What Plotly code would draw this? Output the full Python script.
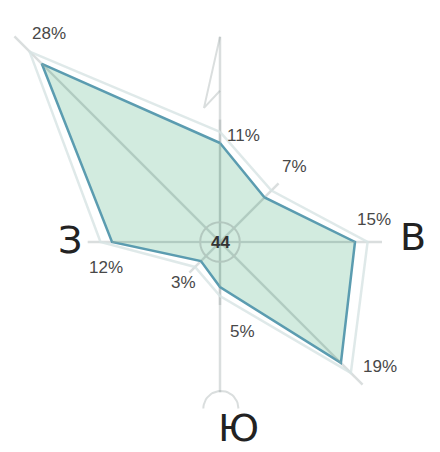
import plotly.graph_objects as go
import numpy as np

# wind rose data
directions = ["С", "СВ", "В", "ЮВ", "Ю", "ЮЗ", "З", "СЗ"]
angles = [0, 45, 90, 135, 180, 225, 270, 315]
values = [11, 7, 15, 19, 5, 3, 12, 28]
calm = "44"
value_labels = ["11%", "7%", "15%", "19%", "5%", "3%", "12%", "28%"]

# pixel offsets of value labels from their vertices
label_shift = [(23, 8), (30, 31), (19, 23), (39, -4), (22, -44), (-17, -21), (-6, -25), (7, 30)]

GRID = "rgba(150,160,160,0.35)"


def to_xy(r, deg):
    t = np.radians(np.array(deg, dtype=float))
    r = np.array(r, dtype=float)
    return r * np.sin(t), r * np.cos(t)


fig = go.Figure()

x, y = to_xy(values, angles)
xc = np.append(x, x[0])
yc = np.append(y, y[0])

# spokes
spoke_len = np.array(values) * 1.1 + 1.5
sx, sy = to_xy(spoke_len, angles)
for i in range(len(angles)):
    fig.add_trace(go.Scatter(x=[0, sx[i]], y=[0, sy[i]], mode="lines",
                             line=dict(color=GRID, width=2.5),
                             hoverinfo="skip", showlegend=False))

# compass needle (north flag, south arc)
fig.add_trace(go.Scatter(x=[0, 0], y=[-16.7, 22.8], mode="lines",
                         line=dict(color=GRID, width=2.5),
                         hoverinfo="skip", showlegend=False))
fig.add_trace(go.Scatter(x=[0, -1.78, 0], y=[22.8, 14.9, 16.8], mode="lines",
                         line=dict(color=GRID, width=2),
                         hoverinfo="skip", showlegend=False))
a = np.linspace(0, np.pi, 30)
fig.add_trace(go.Scatter(x=0.1 + 1.95 * np.cos(a), y=-18.5 + 1.95 * np.sin(a), mode="lines",
                         line=dict(color=GRID, width=2),
                         hoverinfo="skip", showlegend=False))

# halo outline
hx, hy = to_xy(np.array(values) * 1.04 + 0.8, angles)
fig.add_trace(go.Scatter(x=np.append(hx, hx[0]), y=np.append(hy, hy[0]), mode="lines",
                         line=dict(color="rgba(215,228,228,0.8)", width=2.5),
                         hoverinfo="skip", showlegend=False))

# main polygon
fig.add_trace(go.Scatter(x=xc, y=yc, mode="lines", fill="toself",
                         fillcolor="rgba(165,216,192,0.5)",
                         line=dict(color="#5b9cb0", width=2.5),
                         hoverinfo="skip", showlegend=False))

# spokes again, faint inside the fill
for i in range(len(angles)):
    fig.add_trace(go.Scatter(x=[0, x[i]], y=[0, y[i]], mode="lines",
                             line=dict(color="rgba(150,175,165,0.35)", width=2),
                             hoverinfo="skip", showlegend=False))

# centre circle
fig.add_shape(type="circle", xref="x", yref="y", x0=-2.2, y0=-2.2, x1=2.2, y1=2.2,
              line=dict(color="#b3c8bf", width=2), fillcolor="rgba(0,0,0,0)")
fig.add_annotation(x=0, y=0, text="<b>" + calm + "</b>", showarrow=False,
                   font=dict(family="Liberation Sans", size=17, color="#333333"))

for i in range(len(values)):
    fig.add_annotation(x=x[i], y=y[i], text=value_labels[i], showarrow=False,
                       xshift=label_shift[i][0], yshift=label_shift[i][1],
                       font=dict(family="Liberation Sans", size=17, color="#484848"))

# compass letters
letter_font = dict(family="DejaVu Sans", size=38, color="#222222")
fig.add_annotation(x=-16.7, y=0.2, text="З", showarrow=False, font=letter_font)
fig.add_annotation(x=21.4, y=0.55, text="В", showarrow=False, font=letter_font)
fig.add_annotation(x=2.0, y=-20.7, text="Ю", showarrow=False, font=letter_font)

# page has an 8px body margin: figure is 432x444, centre at (212, 234) inside it
fig.update_xaxes(range=[-212 / 9, 220 / 9], visible=False, fixedrange=True)
fig.update_yaxes(range=[-210 / 9, 234 / 9], visible=False, fixedrange=True)
fig.update_layout(width=432, height=444, margin=dict(l=0, r=0, t=0, b=0),
                  plot_bgcolor="white", paper_bgcolor="white",
                  template="plotly_white")

fig.write_html("out.html")
